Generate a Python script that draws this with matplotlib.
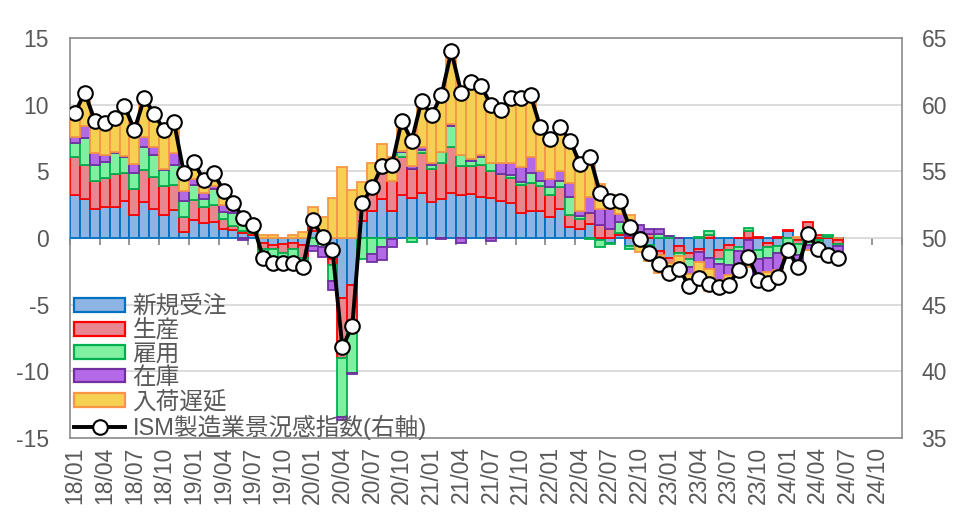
import matplotlib
matplotlib.use("Agg")
import matplotlib.pyplot as plt
import numpy as np
from matplotlib.lines import Line2D
from matplotlib.patches import Patch

plt.rcParams['font.family'] = ['Liberation Sans', 'Noto Sans CJK JP', 'DejaVu Sans']
plt.rcParams['axes.unicode_minus'] = False

# ---- data (contributions, pts) ----
new_orders = [3.2, 2.9, 2.2, 2.35, 2.35, 2.8, 1.7, 2.7, 2.15, 1.7, 2.1, 0.45,
              1.35, 1.1, 1.2, 0.7, 0.6, 0.35, 0.2, -0.4, -0.5, -0.45, -0.4, -0.5,
              0.5, -0.05, -1.56, -4.5, -3.5, 1.28, 2.0, 2.9, 2.04, 3.2, 3.02, 3.4,
              2.7, 2.96, 3.4, 3.2, 3.3, 3.1, 3.0, 2.75, 2.65, 1.9, 2.0, 2.0,
              1.6, 2.2, 0.8, 0.7, 1.02, -0.16, -0.4, 0.26, -0.58, -0.16, -0.56, -0.96,
              -1.5, -0.6, -1.14, -0.86, -1.48, -0.88, -0.54, -0.64, -0.16, -0.9, -0.34, -0.58,
              0.5, -0.16, 0.28, -0.18, -0.92, -0.14]
production = [2.9, 2.6, 2.1, 2.15, 2.45, 2.1, 1.95, 2.4, 2.45, 2.2, 1.9, 1.1,
              1.5, 1.25, 1.25, 0.75, 0.3, 0.2, 0.15, -0.4, -0.3, -0.7, -0.45, -1.0,
              0.9, 0.1, -0.46, -4.5, -3.4, 1.46, 2.2, 2.5, 2.2, 2.9, 2.16, 3.0,
              2.5, 2.64, 3.45, 2.2, 2.1, 2.4, 2.0, 2.05, 1.85, 2.05, 2.1, 1.9,
              1.6, 1.6, 0.95, 0.75, 0.84, 0.98, 0.7, 0.08, 0.12, 0.46, 0.3, -0.3,
              -0.4, -0.54, -0.44, -0.22, 0.22, -0.66, -0.34, 0.0, 0.5, 0.08, -0.3, 0.06,
              0.08, -0.32, 0.92, 0.26, 0.04, -0.3]
employment = [1.0, 2.0, 1.2, 1.2, 1.55, 1.15, 1.2, 1.7, 1.6, 1.2, 1.5, 1.25,
              1.1, 0.6, 1.25, 0.5, 0.95, 0.45, 0.2, -0.6, -1.0, -0.75, -0.7, -0.6,
              -0.6, -0.65, -1.24, -4.4, -3.2, -1.58, -1.2, -0.65, -0.08, 0.35, -0.32, 0.2,
              0.3, 0.88, 1.55, 0.8, 0.35, 0.6, 0.6, 0.0, 0.25, 0.25, 0.75, 0.4,
              0.6, 0.5, 1.3, 0.2, -0.08, -0.54, -0.02, 0.84, -0.26, 0.0, -0.32, 0.28,
              0.12, -0.18, -0.62, 0.04, 0.28, -0.38, -1.12, -0.3, 0.24, -0.64, -0.84, -0.58,
              -0.58, -0.82, -0.52, -0.28, 0.22, -0.14]
inventories = [0.5, 0.9, 0.9, 0.5, 0.1, 0.1, 0.7, 0.8, 0.6, 0.1, 0.85, 0.7,
               0.5, 0.4, 0.2, 0.5, 0.25, -0.15, 0.1, -0.3, -0.3, 0.0, -0.55, -0.55,
               -0.35, -0.75, -0.62, -0.25, -0.1, 0.08, -0.6, -1.0, -0.58, 0.1, 0.2, 0.2,
               0.1, -0.06, 0.15, -0.4, 0.15, 0.15, -0.2, 0.85, 0.9, 1.15, 1.25, 0.7,
               0.6, 0.7, 1.1, 0.35, 1.18, 1.2, 1.46, 0.62, 1.1, 0.5, 0.34, 0.36,
               0.02, 0.02, -0.5, -0.74, -0.84, -1.2, -0.78, -1.2, -1.24, -1.34, -1.04, -1.22,
               -0.76, -0.94, -0.36, -0.36, -0.42, -0.92]
deliveries = [1.8, 2.5, 2.4, 2.4, 2.55, 3.75, 2.55, 2.9, 2.5, 2.9, 2.35, 1.35,
              1.25, 1.0, 1.0, 1.1, 0.5, 0.65, 0.35, 0.2, 0.2, 0.0, 0.2, 0.45,
              0.9, 1.45, 3.0, 5.35, 3.6, 1.38, 1.4, 1.65, 1.8, 2.25, 2.34, 3.5,
              3.6, 4.3, 5.45, 5.1, 5.8, 5.15, 4.6, 3.95, 4.85, 5.15, 4.6, 3.3,
              3.0, 3.3, 3.15, 3.55, 3.14, 1.9, 1.04, 1.02, 0.48, -0.9, -0.86, -1.33,
              -0.89, -1.0, -0.9, -1.22, -1.63, -0.53, -0.72, -0.26, -0.79, -0.35, -0.88, -0.58,
              -0.14, 0.04, -0.02, -0.24, -0.22, 0.0]
pmi = [59.4, 60.9, 58.8, 58.6, 59.0, 59.9, 58.1, 60.5, 59.3, 58.1, 58.7, 54.85,
       55.7, 54.35, 54.9, 53.55, 52.6, 51.5, 51.0, 48.5, 48.1, 48.1, 48.1, 47.8,
       51.35, 50.05, 49.1, 41.8, 43.4, 52.6, 53.8, 55.4, 55.5, 58.8, 57.3, 60.3,
       59.2, 60.7, 64.0, 60.9, 61.7, 61.4, 60.0, 59.6, 60.5, 60.5, 60.7, 58.3,
       57.4, 58.3, 57.3, 55.55, 56.1, 53.4, 52.8, 52.8, 50.8, 49.9, 48.9, 48.05,
       47.35, 47.7, 46.4, 47.0, 46.55, 46.35, 46.5, 47.6, 48.55, 46.85, 46.6, 47.1,
       49.1, 47.8, 50.3, 49.2, 48.7, 48.5]

n_categories = 84  # 18/01 .. 24/12
tick_labels = ["18/01", "18/04", "18/07", "18/10", "19/01", "19/04", "19/07", "19/10",
               "20/01", "20/04", "20/07", "20/10", "21/01", "21/04", "21/07", "21/10",
               "22/01", "22/04", "22/07", "22/10", "23/01", "23/04", "23/07", "23/10",
               "24/01", "24/04", "24/07", "24/10"]

series = [
    ("新規受注", new_orders, "#8DB4E2", "#0070C0"),
    ("生産", production, "#E8878F", "#FF0000"),
    ("雇用", employment, "#80F0A0", "#00B050"),
    ("在庫", inventories, "#B46AE6", "#7030A0"),
    ("入荷遅延", deliveries, "#F5D052", "#F79646"),
]
line_label = "ISM製造業景況感指数(右軸)"

txt = "#595959"
grid_c = "#D9D9D9"
axis_c = "#8C8C8C"
fs = 16.5

fig = plt.figure(figsize=(9.59, 5.17), dpi=100)
ax = fig.add_axes([70/959, 1-438/517, (902-70)/959, 400/517])
ax.set_xlim(-0.5, n_categories - 0.5)
ax.set_ylim(-15, 15)

x = np.arange(len(pmi))
pos_b = np.zeros(len(x))
neg_b = np.zeros(len(x))
handles = []
for name, vals, fc, ec in series:
    v = np.array(vals, dtype=float)
    bottom = np.where(v >= 0, pos_b, neg_b)
    ax.bar(x, v, bottom=bottom, width=1.0, color=fc, edgecolor=ec, linewidth=1.3, zorder=3)
    pos_b = pos_b + np.where(v >= 0, v, 0)
    neg_b = neg_b + np.where(v < 0, v, 0)
    handles.append(Patch(facecolor=fc, edgecolor=ec, linewidth=1.6, label=name))

# grid
ax.set_yticks(np.arange(-15, 16, 5))
ax.yaxis.grid(True, color=grid_c, linewidth=1.3, zorder=0)
ax.set_axisbelow(True)
ax.tick_params(axis='y', length=0, labelsize=fs, labelcolor=txt, pad=15)
for s in ax.spines.values():
    s.set_color(axis_c)
    s.set_linewidth(1.2)

# x tick labels at bottom
ax.set_xticks(np.arange(0, n_categories, 3))
ax.set_xticklabels(tick_labels, rotation=90, fontsize=fs, color=txt)
ax.tick_params(axis='x', length=0, pad=6)

# category axis at y=0 with tick marks between categories
sec = ax.secondary_xaxis(0.5)
sec.set_xticks(np.arange(-0.5, n_categories, 3))
sec.tick_params(axis='x', direction='out', length=5, width=1.3, color=axis_c, labelbottom=False, labeltop=False)
sec.spines['bottom'].set_color(axis_c)
sec.spines['bottom'].set_linewidth(1.6)
sec.spines['top'].set_visible(False)
sec.xaxis.set_ticks_position('bottom')
sec.set_xticklabels([])

# right axis with PMI line
ax2 = ax.twinx()
ax2.set_ylim(35, 65)
ax2.set_yticks(np.arange(35, 66, 5))
ax2.tick_params(axis='y', length=0, labelsize=fs, labelcolor=txt, pad=14)
for s in ax2.spines.values():
    s.set_visible(False)
ax2.plot(x, pmi, color='black', linewidth=2.8, marker='o', markersize=10.5,
         markerfacecolor='white', markeredgecolor='black', markeredgewidth=1.5, zorder=5)

line_h = Line2D([0], [0], color='black', linewidth=2.8, marker='o', markersize=10.5,
                markerfacecolor='white', markeredgecolor='black', markeredgewidth=1.5,
                label=line_label)
handles.append(line_h)

leg = ax2.legend(handles=handles, loc='lower left', bbox_to_anchor=(0.0, -0.013),
                 frameon=False, fontsize=17, labelcolor=txt, handlelength=2.2,
                 handleheight=0.52, handletextpad=0.3, labelspacing=0.06,
                 borderaxespad=0.05, borderpad=0.1)

fig.savefig("out.png", dpi=100)
